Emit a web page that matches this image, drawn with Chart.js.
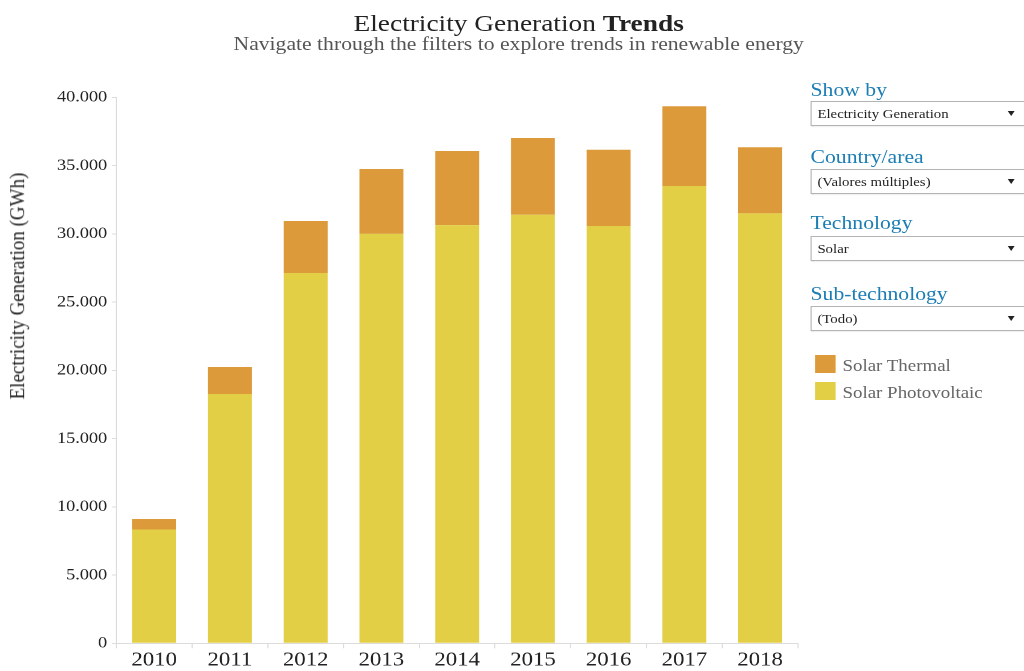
<!DOCTYPE html>
<html>
<head>
<meta charset="utf-8">
<script src="https://cdn.jsdelivr.net/npm/chart.js@4.4.1/dist/chart.umd.min.js"></script>
<style>
    html, body { margin: 0; padding: 0; background: #fff; overflow: hidden; }
    /* the reference is a slightly wide screenshot, so the whole page is stretched a little */
    #page {
        position: absolute; left: 0; top: 0;
        width: 898px; height: 671px;
        transform: scaleX(1.14); transform-origin: 0 0;
        font-family: "Liberation Serif", "Times New Roman", serif;
    }
    #title {
        position: absolute; left: 0; top: 10.6px; width: 910px;
        text-align: center; font-size: 24px; line-height: 24px; color: #222;
    }
    #subtitle {
        position: absolute; left: 0; top: 34px; width: 910px;
        text-align: center; font-size: 19px; line-height: 19px; color: #555;
    }
    #ytitle {
        position: absolute; left: 14.5px; top: 286px;
        transform: translate(-50%, -50%) rotate(-90deg);
        white-space: nowrap; font-size: 19px; line-height: 19px; color: #222;
    }
    #chart-box { position: absolute; left: 0; top: 0; width: 702px; height: 671px; }
    .filter-label {
        position: absolute; left: 711px; font-size: 19px; line-height: 19px; color: #1b7db4;
    }
    .filter-box {
        position: absolute; left: 711px; width: 184px; height: 23px;
        border: 1px solid #b4b4b4; box-shadow: 1px 1px 1px rgba(0,0,0,0.12);
        font-size: 13px; line-height: 23px; color: #222; padding-left: 5px; box-sizing: content-box;
    }
    .filter-box .arrow {
        position: absolute; right: 11px; top: 9px; width: 0; height: 0;
        border-left: 3px solid transparent; border-right: 3px solid transparent; border-top: 5px solid #222;
    }
    .legend-item { position: absolute; left: 715px; height: 18px; }
    .legend-swatch { position: absolute; left: 0; top: 0; width: 17.5px; height: 18px; }
    .legend-text {
        position: absolute; left: 24px; font-size: 16.6px; line-height: 16px; color: #666; white-space: nowrap;
    }
</style>
</head>
<body>
<div id="page">
    <div id="title">Electricity Generation <b>Trends</b></div>
    <div id="subtitle">Navigate through the filters to explore trends in renewable energy</div>
    <div id="chart-box"><canvas id="chart"></canvas></div>
    <div id="ytitle">Electricity Generation (GWh)</div>
    <div id="side"></div>
</div>
<script>
const years = ['2010', '2011', '2012', '2013', '2014', '2015', '2016', '2017', '2018'];
const solarPhotovoltaic = [8340, 18260, 27130, 29990, 30640, 31400, 30570, 33500, 31500];
const solarThermal = [770, 1980, 3810, 4760, 5430, 5620, 5590, 5840, 4840];
const yTicks = [0, 5000, 10000, 15000, 20000, 25000, 30000, 35000, 40000];

const seriesNames = ['Solar Thermal', 'Solar Photovoltaic'];
const seriesColors = ['#dd9a3b', '#e3cf46'];

const filterLabels = ['Show by', 'Country/area', 'Technology', 'Sub-technology'];
const filterValues = ['Electricity Generation', '(Valores múltiples)', 'Solar', '(Todo)'];

// thousands with a dot, as in the original
function formatNumber(v) {
    return String(v).replace(/\B(?=(\d{3})+(?!\d))/g, '.');
}

// side panel: filters and legend
const side = document.getElementById('side');
const labelTops = [80, 147, 213, 284];
const boxTops = [101, 169, 235.5, 305.5];
filterLabels.forEach(function (label, i) {
    const l = document.createElement('div');
    l.className = 'filter-label';
    l.style.top = labelTops[i] + 'px';
    l.textContent = label;
    side.appendChild(l);

    const b = document.createElement('div');
    b.className = 'filter-box';
    b.style.top = boxTops[i] + 'px';
    b.textContent = filterValues[i];
    const a = document.createElement('span');
    a.className = 'arrow';
    b.appendChild(a);
    side.appendChild(b);
});

const legendTops = [355, 381.5];
seriesNames.forEach(function (name, i) {
    const item = document.createElement('div');
    item.className = 'legend-item';
    item.style.top = legendTops[i] + 'px';
    const sw = document.createElement('div');
    sw.className = 'legend-swatch';
    sw.style.background = seriesColors[i];
    const tx = document.createElement('div');
    tx.className = 'legend-text';
    tx.style.top = '3px';
    tx.textContent = name;
    item.appendChild(sw);
    item.appendChild(tx);
    side.appendChild(item);
});

const axisGray = '#dcdcdc';
const ctx = document.getElementById('chart').getContext('2d');
new Chart(ctx, {
    type: 'bar',
    data: {
        labels: years,
        datasets: [
            {
                label: seriesNames[1],
                data: solarPhotovoltaic,
                backgroundColor: seriesColors[1],
                barPercentage: 0.58,
                categoryPercentage: 1.0,
            },
            {
                label: seriesNames[0],
                data: solarThermal,
                backgroundColor: seriesColors[0],
                barPercentage: 0.58,
                categoryPercentage: 1.0,
            },
        ],
    },
    options: {
        responsive: true,
        maintainAspectRatio: false,
        animation: false,
        devicePixelRatio: 2,
        layout: { padding: { top: 97.3, right: 2, bottom: 0, left: 0 } },
        plugins: {
            legend: { display: false },
            tooltip: { enabled: false },
        },
        scales: {
            x: {
                stacked: true,
                grid: { display: true, drawOnChartArea: false, offset: true, tickLength: 5, color: axisGray },
                border: { display: true, color: axisGray },
                ticks: {
                    padding: 0,
                    color: '#222',
                    font: { family: '"Liberation Serif", serif', size: 20 },
                    maxRotation: 0,
                },
                afterFit: function (scale) { scale.height = 27.7; },
            },
            y: {
                stacked: true,
                min: 0,
                max: 40000,
                afterBuildTicks: function (scale) {
                    scale.ticks = yTicks.map(v => ({ value: v }));
                },
                grid: { display: true, drawOnChartArea: false, tickLength: 4, color: axisGray },
                border: { display: true, color: axisGray },
                ticks: {
                    padding: 4,
                    color: '#222',
                    font: { family: '"Liberation Serif", serif', size: 16 },
                    callback: function (v) { return formatNumber(v); },
                },
                afterFit: function (scale) { scale.width = 102; },
            },
        },
    },
});
</script>
</body>
</html>
